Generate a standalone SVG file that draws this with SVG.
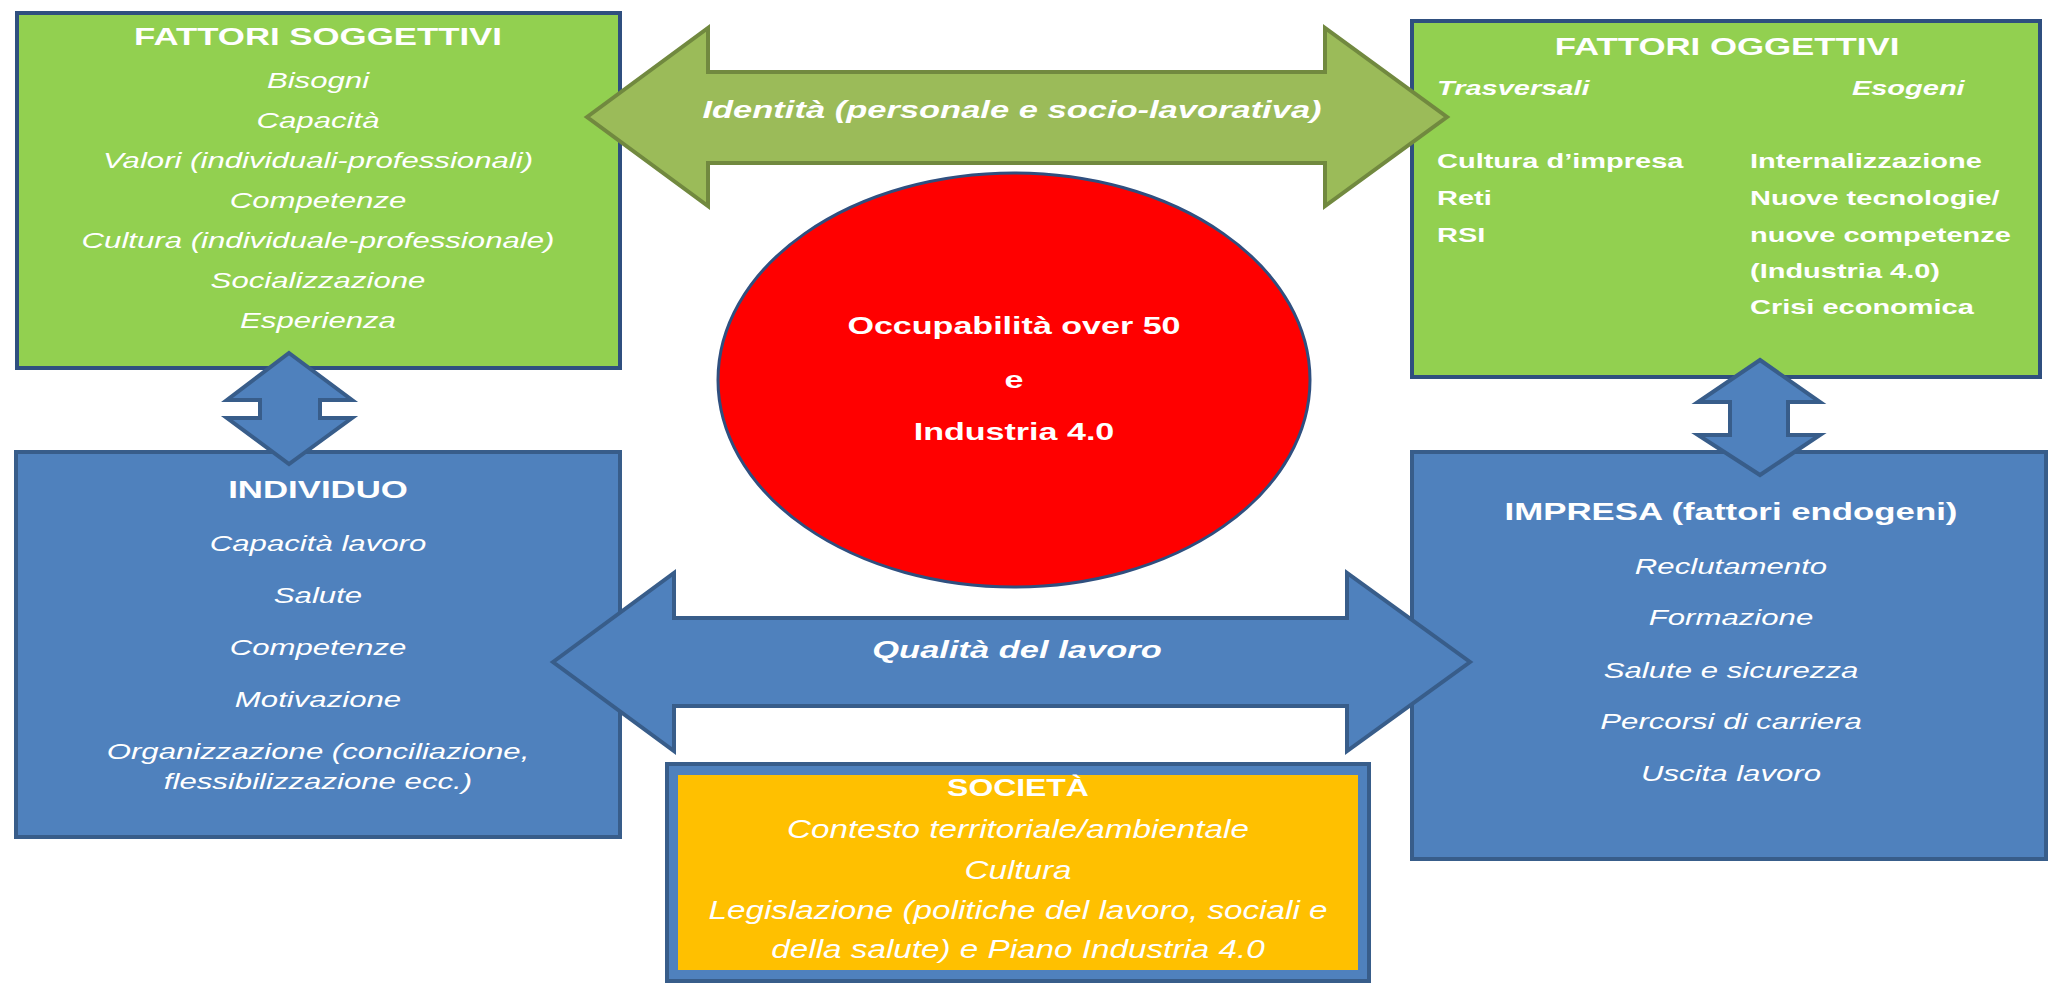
<svg xmlns="http://www.w3.org/2000/svg" width="2050" height="988" viewBox="0 0 2050 988">
  <style>
    text { font-family: "Liberation Sans", Arial, sans-serif; fill: #FFFFFF; }
    .green { fill: #92D050; stroke: #2F4F7F; stroke-width: 4; }
    .blue { fill: #4F81BD; stroke: #385D8A; stroke-width: 4; }
    .yellow { fill: #FFC000; }
    .arrow-green { fill: #9BBB59; stroke: #71893F; stroke-width: 4; stroke-linejoin: miter; }
    .arrow-blue { fill: #4F81BD; stroke: #385D8A; stroke-width: 4; stroke-linejoin: miter; }
    .hub { fill: #FF0000; stroke: #2F4F7F; stroke-width: 3; }
    .title { font-size: 24px; font-weight: bold; text-anchor: middle; }
    .item { font-size: 21.5px; font-style: italic; text-anchor: middle; }
    .col { font-size: 20px; font-weight: bold; }
    .colhead { font-size: 20px; font-weight: bold; font-style: italic; }
    .hubtext { font-size: 23.5px; font-weight: bold; text-anchor: middle; }
    .label { font-size: 23.8px; font-weight: bold; font-style: italic; text-anchor: middle; }
    .soc { font-size: 25px; font-style: italic; text-anchor: middle; }
    .soctitle { font-size: 24px; font-weight: bold; text-anchor: middle; }
  </style>

  <rect width="2050" height="988" fill="#FFFFFF"/>

  <!-- Boxes -->
  <g id="fattori-soggettivi">
    <rect class="green" x="17" y="13" width="603" height="355"/>
    <g transform="translate(318 0) scale(1.45 1)">
      <text class="title" x="0" y="45">FATTORI SOGGETTIVI</text>
      <text class="item" x="0" y="88">Bisogni</text>
      <text class="item" x="0" y="128">Capacità</text>
      <text class="item" x="0" y="168">Valori (individuali-professionali)</text>
      <text class="item" x="0" y="208">Competenze</text>
      <text class="item" x="0" y="248">Cultura (individuale-professionale)</text>
      <text class="item" x="0" y="288">Socializzazione</text>
      <text class="item" x="0" y="328">Esperienza</text>
    </g>
  </g>

  <g id="fattori-oggettivi">
    <rect class="green" x="1412" y="21" width="628" height="356"/>
    <g transform="translate(1727 0) scale(1.45 1)">
      <text class="title" x="0" y="55">FATTORI OGGETTIVI</text>
    </g>
    <g transform="translate(1437 0) scale(1.45 1)">
      <text class="colhead" x="0" y="95">Trasversali</text>
      <text class="col" x="0" y="168">Cultura d’impresa</text>
      <text class="col" x="0" y="205">Reti</text>
      <text class="col" x="0" y="242">RSI</text>
    </g>
    <g transform="translate(1750 0) scale(1.45 1)">
      <text class="colhead" x="70.3" y="95">Esogeni</text>
      <text class="col" x="0" y="168">Internalizzazione</text>
      <text class="col" x="0" y="205">Nuove tecnologie/</text>
      <text class="col" x="0" y="242">nuove competenze</text>
      <text class="col" x="0" y="278">(Industria 4.0)</text>
      <text class="col" x="0" y="314">Crisi economica</text>
    </g>
  </g>

  <g id="individuo">
    <rect class="blue" x="16" y="452" width="604" height="385"/>
    <g transform="translate(318 0) scale(1.45 1)">
      <text class="title" x="0" y="498">INDIVIDUO</text>
      <text class="item" x="0" y="551">Capacità lavoro</text>
      <text class="item" x="0" y="603">Salute</text>
      <text class="item" x="0" y="655">Competenze</text>
      <text class="item" x="0" y="707">Motivazione</text>
      <text class="item" x="0" y="759">Organizzazione (conciliazione,</text>
      <text class="item" x="0" y="789">flessibilizzazione ecc.)</text>
    </g>
  </g>

  <g id="impresa">
    <rect class="blue" x="1412" y="452" width="634" height="407"/>
    <g transform="translate(1731 0) scale(1.45 1)">
      <text class="title" x="0" y="520">IMPRESA (fattori endogeni)</text>
      <text class="item" x="0" y="574">Reclutamento</text>
      <text class="item" x="0" y="625">Formazione</text>
      <text class="item" x="0" y="678">Salute e sicurezza</text>
      <text class="item" x="0" y="729">Percorsi di carriera</text>
      <text class="item" x="0" y="781">Uscita lavoro</text>
    </g>
  </g>

  <g id="societa">
    <rect class="blue" x="667" y="764" width="702" height="217"/>
    <rect class="yellow" x="678" y="775" width="680" height="195"/>
    <g transform="translate(1018 0) scale(1.33 1)">
      <text class="soctitle" x="0" y="796">SOCIETÀ</text>
      <text class="soc" x="0" y="838">Contesto territoriale/ambientale</text>
      <text class="soc" x="0" y="879">Cultura</text>
      <text class="soc" x="0" y="919">Legislazione (politiche del lavoro, sociali e</text>
      <text class="soc" x="0" y="958">della salute) e Piano Industria 4.0</text>
    </g>
  </g>

  <g id="occupabilita">
    <ellipse class="hub" cx="1014" cy="380" rx="296" ry="207"/>
    <g transform="translate(1014 0) scale(1.45 1)">
      <text class="hubtext" x="0" y="334">Occupabilità over 50</text>
      <text class="hubtext" x="0" y="388">e</text>
      <text class="hubtext" x="0" y="440">Industria 4.0</text>
    </g>
  </g>

  <!-- Connectors: double-headed block arrows -->
  <g id="connectors">
    <g id="identita">
      <path class="arrow-green" d="M587,117 L708,28 L708,72 L1325,72 L1325,28 L1447,117 L1325,206 L1325,163 L708,163 L708,206 Z"/>
      <g transform="translate(1012 0) scale(1.45 1)">
        <text class="label" x="0" y="118">Identità (personale e socio-lavorativa)</text>
      </g>
    </g>
    <g id="qualita">
      <path class="arrow-blue" d="M553,662 L674,573 L674,618 L1347,618 L1347,573 L1470,662 L1347,751 L1347,706 L674,706 L674,751 Z"/>
      <g transform="translate(1017 0) scale(1.45 1)">
        <text class="label" x="0" y="658">Qualità del lavoro</text>
      </g>
    </g>
    <path id="soggettivi-individuo" class="arrow-blue" d="M289,353 L352,400 L320,400 L320,418 L352,418 L289,464 L227,418 L260,418 L260,400 L227,400 Z"/>
    <path id="oggettivi-impresa" class="arrow-blue" d="M1760,360 L1820,402 L1788,402 L1788,435 L1820,435 L1760,475 L1698,435 L1730,435 L1730,402 L1698,402 Z"/>
  </g>
</svg>
